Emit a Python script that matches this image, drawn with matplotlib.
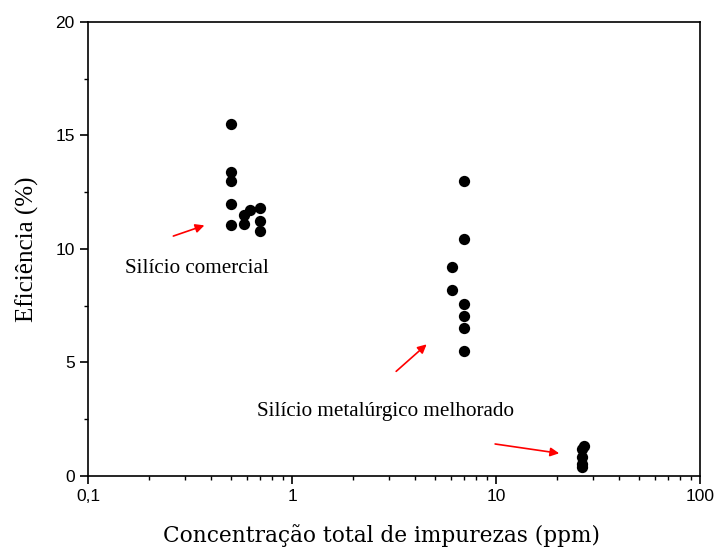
import numpy as np
import matplotlib.pyplot as plt
from matplotlib.ticker import FixedLocator, FixedFormatter, LogLocator, NullFormatter, MultipleLocator

# -----------------------
# Dados
# -----------------------
conc_comercial = [0.5, 0.5, 0.5, 0.5, 0.5, 0.58, 0.58, 0.62, 0.7, 0.7, 0.7]
efic_comercial = [15.5, 13.4, 13.0, 12.0, 11.05, 11.5, 11.1, 11.7, 11.8, 11.23, 10.8]

conc_metal = [7.0, 7.0, 6.1, 6.1, 7.0, 7.0, 7.0, 7.0]
efic_metal = [13.0, 10.43, 9.2, 8.2, 7.58, 7.03, 6.5, 5.5]

conc_outro = [26.3, 26.3, 26.3, 26.3, 27.0]
efic_outro = [1.2, 0.85, 0.55, 0.4, 1.3]

x_ticks = [0.1, 1, 10, 100]
x_tick_labels = ['0,1', '1', '10', '100']
y_ticks = [0, 5, 10, 15, 20]

# setas: (cauda, ponta)
arrows = [((0.262, 10.57), (0.372, 11.04)),
          ((3.24, 4.61), (4.57, 5.80)),
          ((9.9, 1.41), (20.4, 1.0))]

# -----------------------
# Figura
# -----------------------
fig = plt.figure(figsize=(7.16, 5.47), dpi=100)
ax = fig.add_axes([0.1229, 0.1298, 0.8548, 0.8300])

for xs, ys in [(conc_comercial, efic_comercial), (conc_metal, efic_metal), (conc_outro, efic_outro)]:
    ax.scatter(xs, ys, s=66, color='black', zorder=3, linewidths=0)

ax.set_xscale('log')
ax.set_xlim(0.1, 100)
ax.set_ylim(0, 20)

ax.xaxis.set_major_locator(FixedLocator(x_ticks))
ax.xaxis.set_major_formatter(FixedFormatter(x_tick_labels))
ax.xaxis.set_minor_locator(LogLocator(base=10, subs=np.arange(2, 10)))
ax.xaxis.set_minor_formatter(NullFormatter())
ax.yaxis.set_major_locator(FixedLocator(y_ticks))
ax.yaxis.set_minor_locator(MultipleLocator(2.5))

ax.tick_params(which='major', direction='out', length=6, width=1.2,
               labelsize=12.5, top=False, right=False)
ax.tick_params(which='minor', direction='out', length=3, width=1.0, top=False, right=False)
for lbl in ax.get_xticklabels() + ax.get_yticklabels():
    lbl.set_family('Liberation Sans')
for sp in ax.spines.values():
    sp.set_linewidth(1.2)

ax.set_xlabel('Concentração total de impurezas (ppm)', family='DejaVu Serif',
              fontsize=15.6, labelpad=14)
ax.xaxis.label.set_x(0.479)
ax.set_ylabel('Eficiência (%)', family='Liberation Serif', fontsize=18, labelpad=12)

ax.text(0.152, 9.16, 'Silício comercial', family='Liberation Serif', fontsize=15.2,
        va='center', ha='left')
ax.text(0.673, 2.82, 'Silício metalúrgico melhorado', family='Liberation Serif',
        fontsize=15.2, va='center', ha='left')

for (tail, head) in arrows:
    ax.annotate('', xy=head, xytext=tail,
                arrowprops=dict(arrowstyle='-|>', color='red', lw=1.2,
                                mutation_scale=13, shrinkA=0, shrinkB=0))

fig.savefig('out.png', dpi=100)
